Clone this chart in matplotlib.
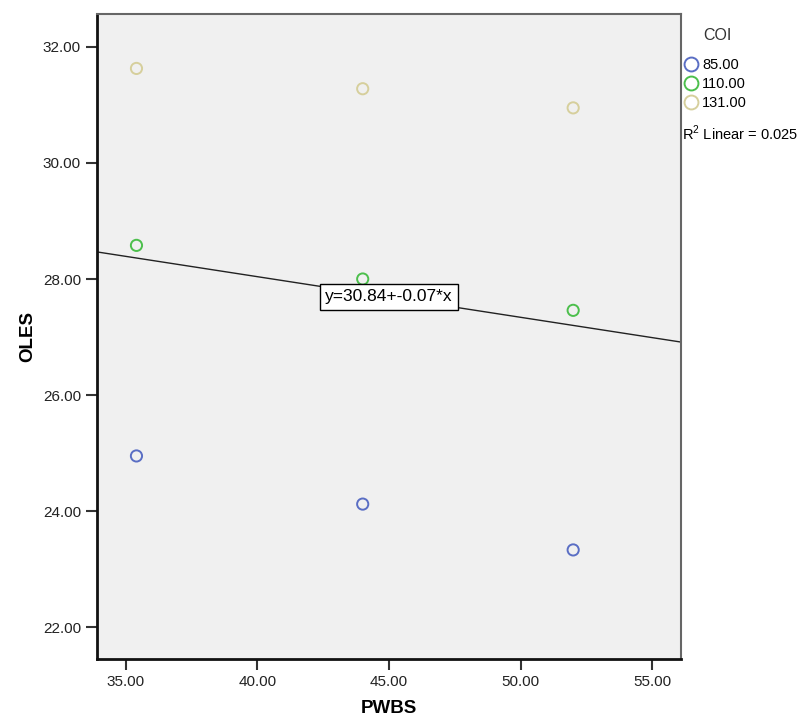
import matplotlib.pyplot as plt
from matplotlib.lines import Line2D
import numpy as np

plt.rcParams['font.family'] = ['Liberation Sans', 'DejaVu Sans']
plt.rcParams['mathtext.fontset'] = 'custom'
plt.rcParams['mathtext.rm'] = 'Liberation Sans'

# PWBS values for each COI group
pwbs = [35.4, 44.0, 52.0]
coi_labels = ['85.00', '110.00', '131.00']
oles = {
    '85.00': [24.95, 24.12, 23.33],
    '110.00': [28.58, 28.00, 27.46],
    '131.00': [31.63, 31.28, 30.95],
}
colors = {'85.00': '#5a6ec4', '110.00': '#4cbf4c', '131.00': '#d6cf9c'}

# fit line as reported
intercept = 30.84
slope = -0.07
r2 = 0.025

xticks = [35, 40, 45, 50, 55]
yticks = [22, 24, 26, 28, 30, 32]


def main():
    fig = plt.figure(figsize=(8.05, 7.24), dpi=100)
    ax = fig.add_axes([0.1205, 0.0898, 0.7255, 0.891])
    ax.set_facecolor('#f0f0f0')

    for lab in coi_labels:
        ax.scatter(pwbs, oles[lab], s=65, facecolors='none',
                   edgecolors=colors[lab], linewidths=1.4, zorder=3)

    xlim = (33.9, 56.1)
    xs = np.array(xlim)
    ax.plot(xs, intercept + slope * xs, color='#222222', lw=1.0, zorder=2)

    xm = 45.0
    ax.text(xm, intercept + slope * xm, 'y=30.84+-0.07*x', fontsize=12.5,
            ha='center', va='center', zorder=4,
            bbox=dict(boxstyle='square,pad=0.3', fc='white', ec='black', lw=1.0))

    ax.set_xlim(*xlim)
    ax.set_ylim(21.45, 32.57)
    ax.set_xticks(xticks)
    ax.set_yticks(yticks)
    ax.set_xticklabels(['%.2f' % v for v in xticks])
    ax.set_yticklabels(['%.2f' % v for v in yticks])
    ax.tick_params(labelsize=11, length=8, width=1.5, colors='#333333', labelcolor='#222222')

    for s in ['left', 'bottom']:
        ax.spines[s].set_color('#111111')
        ax.spines[s].set_linewidth(2.0)
    for s in ['top', 'right']:
        ax.spines[s].set_color('#666666')
        ax.spines[s].set_linewidth(1.5)

    ax.set_xlabel('PWBS', fontsize=13.5, fontweight='bold', labelpad=8)
    ax.set_ylabel('OLES', fontsize=13.5, fontweight='bold', labelpad=5)

    handles = [Line2D([], [], ls='none', marker='o', markersize=10,
                      markerfacecolor='none', markeredgecolor=colors[lab],
                      markeredgewidth=1.4) for lab in coi_labels]
    fig.legend(handles, coi_labels, loc='upper left',
               bbox_to_anchor=(0.8375, 0.934), frameon=False, fontsize=10.5,
               handlelength=0.9, handletextpad=0.3,
               labelspacing=0.35, borderpad=0.2)
    fig.text(717 / 805, 1 - 35 / 724, 'COI', fontsize=11.5, color='#333333',
             ha='center', va='center')
    fig.text(682 / 805, 1 - 133 / 724, r'R$^2$ Linear = 0.025', fontsize=10.5,
             va='center', ha='left')

    fig.savefig('out.png', dpi=100)


if __name__ == "__main__":
    main()
